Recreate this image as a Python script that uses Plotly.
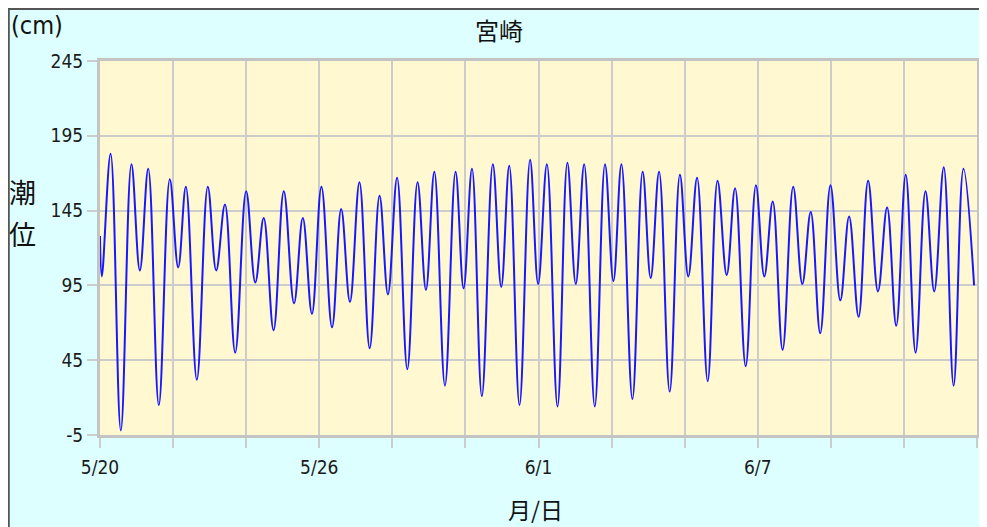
import plotly.graph_objects as go

# tide extremes: time in days since 5/20 00:00, level in cm
tide_day = [
    0.00, 0.05, 0.29, 0.57, 0.86, 1.09, 1.32, 1.61, 1.91, 2.14,
    2.35, 2.65, 2.95, 3.18, 3.42, 3.70, 4.00, 4.25, 4.48, 4.75,
    5.03, 5.31, 5.55, 5.80, 6.06, 6.35, 6.60, 6.84, 7.10, 7.38,
    7.65, 7.88, 8.13, 8.41, 8.69, 8.92, 9.15, 9.44, 9.73, 9.95,
    10.18, 10.45, 10.75, 10.98, 11.20, 11.48, 11.77, 11.99, 12.23, 12.52,
    12.79, 13.02, 13.25, 13.54, 13.82, 14.05, 14.27, 14.57, 14.85, 15.07,
    15.30, 15.59, 15.87, 16.10, 16.34, 16.63, 16.90, 17.15, 17.38, 17.67,
    17.95, 18.18, 18.41, 18.68, 18.97, 19.22, 19.45, 19.71, 19.99, 20.26,
    20.50, 20.76, 21.02, 21.29, 21.54, 21.79, 22.05, 22.32, 22.59, 22.83,
    23.09, 23.36, 23.63, 23.92,
]
tide_cm = [
    128, 101, 183, -2, 176, 105, 173, 15, 166, 107,
    161, 32, 161, 105, 149, 50, 158, 97, 140, 65,
    158, 83, 140, 76, 161, 67, 146, 84, 164, 53,
    155, 89, 167, 39, 164, 92, 171, 28, 171, 93,
    173, 21, 176, 94, 175, 15, 179, 96, 176, 14,
    177, 96, 176, 14, 176, 98, 176, 19, 171, 100,
    171, 24, 169, 101, 167, 31, 165, 102, 160, 41,
    162, 101, 151, 52, 161, 96, 144, 63, 162, 85,
    141, 74, 165, 91, 147, 68, 169, 50, 158, 91,
    174, 28, 173, 95,
]

tick_days = [0, 2, 4, 6, 8, 10, 12, 14, 16, 18, 20, 22, 24]
tick_text = ["5/20", "", "", "5/26", "", "", "6/1", "", "", "6/7", "", "", ""]
level_ticks = [-5, 45, 95, 145, 195, 245]
level_text = ["-5", "45", "95", "145", "195", "245"]

CJK = "Noto Sans CJK JP"
TICK_FONT = "DejaVu Sans Condensed, Liberation Sans Narrow, DejaVu Sans"
GRID = "#cccccc"

fig = go.Figure()
fig.add_trace(
    go.Scatter(
        x=tide_day,
        y=tide_cm,
        mode="lines",
        line=dict(color="#1818ff", width=2, shape="spline", smoothing=1.1),
        hoverinfo="x+y",
        showlegend=False,
    )
)

# frame round the whole figure (only its top and left edges show)
fig.add_shape(type="rect", xref="paper", yref="paper",
              x0=-0.1040, x1=1.03, y0=-0.30, y1=1.1390,
              line=dict(color="#555555", width=2), layer="below")
fig.add_shape(type="rect", xref="paper", yref="paper", x0=0, x1=1, y0=0, y1=1,
              fillcolor="#fff8d0", line=dict(width=0), layer="below")

annotations = [
    dict(text="宮崎", x=0.4545, y=1.083, font=dict(family=CJK, size=24)),
    dict(text="(cm)", x=-0.1034, y=1.094, xanchor="left",
         font=dict(family=TICK_FONT, size=25)),
    dict(text="潮", x=-0.0886, y=0.650, font=dict(family=CJK, size=27)),
    dict(text="位", x=-0.0886, y=0.540, font=dict(family=CJK, size=27)),
    dict(text="月/日", x=0.4966, y=-0.1979, font=dict(family=CJK, size=23)),
]
for a in annotations:
    a.setdefault("xanchor", "center")
    fig.add_annotation(xref="paper", yref="paper", yanchor="middle",
                       showarrow=False, **a)
fig.update_annotations(font_color="#111111")

fig.update_xaxes(
    range=[0, 24], tickvals=tick_days, ticktext=tick_text,
    showgrid=True, gridcolor=GRID, gridwidth=2, zeroline=False,
    showline=True, linecolor="#c4c4c4", linewidth=3, mirror=True,
    ticks="outside", ticklen=10, tickwidth=2, tickcolor=GRID,
    ticklabelstandoff=3,
    tickfont=dict(family=TICK_FONT, size=19, color="#1a1a1a"),
)
fig.update_yaxes(
    range=[-5, 245], tickvals=level_ticks, ticktext=level_text,
    showgrid=True, gridcolor=GRID, gridwidth=2, zeroline=False,
    showline=True, linecolor="#c4c4c4", linewidth=3, mirror=True,
    ticks="outside", ticklen=10, tickwidth=2, tickcolor=GRID,
    tickfont=dict(family=TICK_FONT, size=19, color="#1a1a1a"),
)
# the page adds an 8px margin, so the figure is 8px smaller than the window
fig.update_layout(
    width=979, height=519,
    margin=dict(l=92, r=7, t=53, b=92),
    paper_bgcolor="#ddffff",
    plot_bgcolor="#fff8d0",
    showlegend=False,
)
fig.write_html("out.html")
